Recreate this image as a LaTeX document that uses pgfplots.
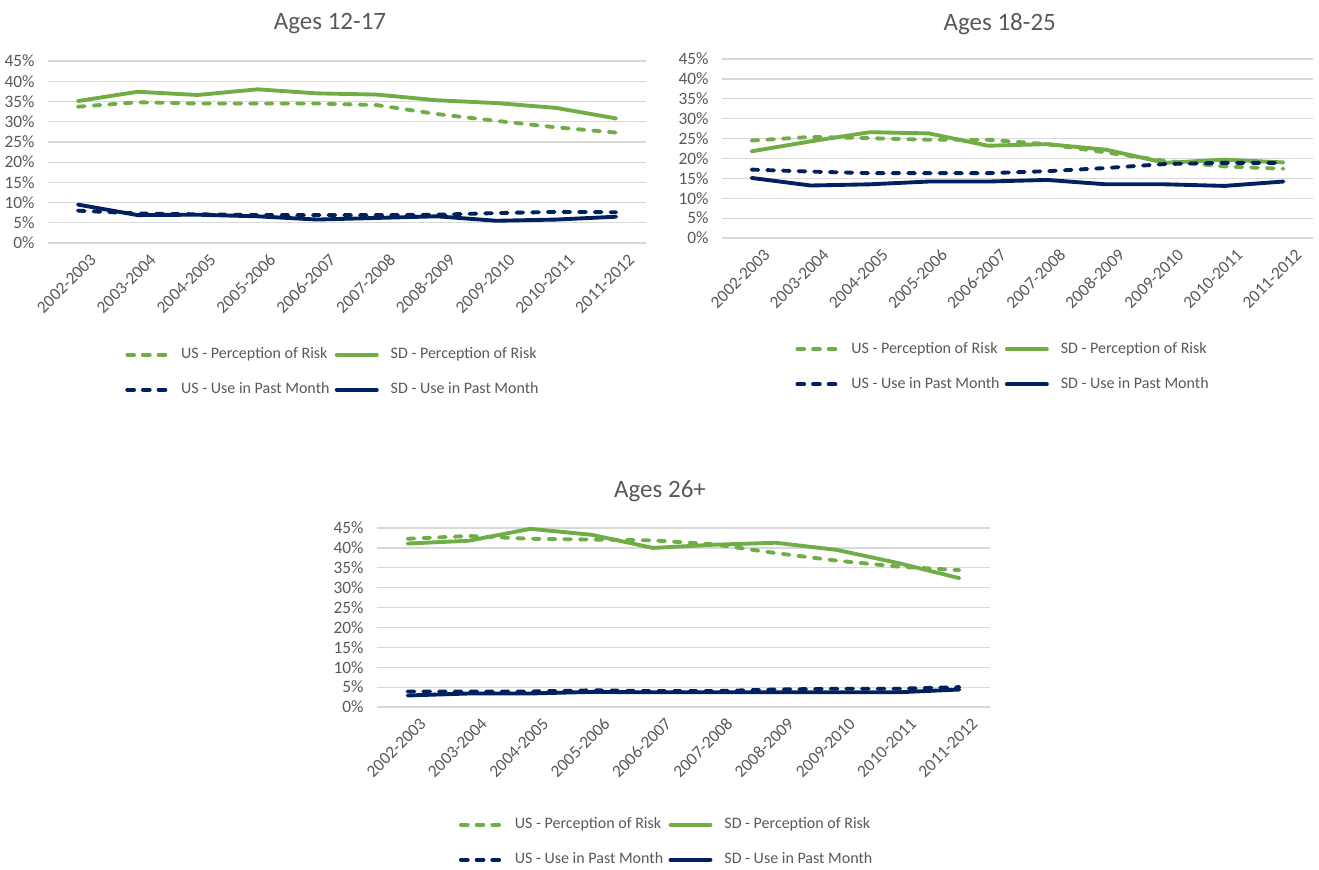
\documentclass[border=0pt]{standalone}
\usepackage{pgfplots}
\usepackage{pgfplotstable}
\pgfplotsset{compat=1.18}
\usepackage{fontspec}
\setmainfont{Carlito}
\definecolor{cgreen}{HTML}{70AD47}
\definecolor{cnavy}{HTML}{002060}
\definecolor{ctext}{HTML}{595959}
\definecolor{cgrid}{HTML}{D9D9D9}

\pgfplotstableread{
x usp sdp usu sdu
0 33.7 35.1 8.0 9.5
1 34.8 37.4 7.3 6.9
2 34.5 36.6 7.1 7.0
3 34.5 38.0 6.9 6.6
4 34.5 37.0 6.9 5.8
5 34.1 36.7 6.9 6.2
6 31.9 35.3 7.0 6.6
7 30.2 34.6 7.4 5.5
8 28.6 33.4 7.7 5.8
9 27.3 30.8 7.6 6.5
}\tabA
\pgfplotstableread{
x usp sdp usu sdu
0 24.5 21.8 17.2 15.1
1 25.4 24.3 16.7 13.2
2 25.1 26.6 16.3 13.5
3 24.7 26.3 16.3 14.2
4 24.7 23.2 16.3 14.2
5 23.6 23.6 16.8 14.6
6 21.5 22.2 17.6 13.5
7 19.4 18.9 18.6 13.5
8 18.0 19.7 18.9 13.1
9 17.4 19.0 18.9 14.2
}\tabB
\pgfplotstableread{
x usp sdp usu sdu
0 42.3 41.1 3.9 2.9
1 43.0 41.8 3.9 3.4
2 42.3 44.8 3.9 3.4
3 42.1 43.3 4.2 3.8
4 41.9 40.0 4.0 3.7
5 40.9 40.8 4.0 3.7
6 38.7 41.3 4.4 3.7
7 36.8 39.5 4.6 3.7
8 35.3 36.2 4.6 3.7
9 34.4 32.4 5.0 4.4
}\tabC

\pgfplotsset{
 mychart/.style={
  scale only axis, xmin=-0.5, xmax=9.5, ymin=0, ymax=45,
  xtick={0,...,9},
  xticklabels={2002-2003,2003-2004,2004-2005,2005-2006,2006-2007,2007-2008,2008-2009,2009-2010,2010-2011,2011-2012},
  ytick={0,5,...,45},
  yticklabels={0\%,5\%,10\%,15\%,20\%,25\%,30\%,35\%,40\%,45\%},
  ymajorgrids, grid style={cgrid, line width=0.9pt},
  axis line style={draw=none}, major tick length=0pt,
  tick label style={font=\fontsize{13}{15}\selectfont, text=ctext},
  xticklabel style={rotate=45, anchor=east, xshift=4.25pt, yshift=-15.5pt},
  yticklabel style={xshift=-6.5pt},
  title style={font=\fontsize{18.75}{22}\selectfont, text=ctext, anchor=center},
  legend columns=2,
  legend cell align=left,
  legend style={draw=none, fill=none, font=\fontsize{12}{14}\selectfont, text=ctext,
    anchor=center,
    nodes={inner sep=1pt, text height=8.5pt, text depth=2.5pt},
    /tikz/column sep=0pt, row sep=13.25pt,
    /tikz/every odd column/.append style={column sep=8pt},
    /tikz/every even column/.append style={column sep=3pt}},
  legend image code/.code={\draw[#1] (0pt,0pt) -- (30pt,0pt);},
  clip=false,
 },
 usp/.style={color=cgreen, line width=2.9pt, line cap=round, line join=round, dash pattern=on 5.1pt off 6.65pt},
 sdp/.style={color=cgreen, line width=2.9pt, line cap=round, line join=round},
 usu/.style={color=cnavy, line width=2.9pt, line cap=round, line join=round, dash pattern=on 5.1pt off 6.65pt},
 sdu/.style={color=cnavy, line width=2.9pt, line cap=round, line join=round},
}

\begin{document}
\begin{tikzpicture}
\path[use as bounding box] (0,0) rectangle (989.25pt,-651.75pt);

\begin{axis}[mychart, at={(36pt,-182.25pt)}, anchor=south west,
  width=448.5pt, height=136.5pt,
  title={Ages 12-17}, title style={at={(axis description cs:0.4716,1)}, yshift=21.75pt},
  legend style={at={(axis description cs:0.476,-0.71)}}]
\addplot[usp] table[x=x,y=usp]{\tabA};
\addlegendentry{US - Perception of Risk}
\addplot[sdp] table[x=x,y=sdp]{\tabA};
\addlegendentry{SD - Perception of Risk}
\addplot[usu] table[x=x,y=usu]{\tabA};
\addlegendentry{US - Use in Past Month}
\addplot[sdu] table[x=x,y=sdu]{\tabA};
\addlegendentry{SD - Use in Past Month}
\end{axis}

\begin{axis}[mychart, at={(541.5pt,-178.5pt)}, anchor=south west,
  width=443.25pt, height=134.25pt,
  title={Ages 18-25}, title style={at={(axis description cs:0.470,1)}, yshift=20.25pt},
  legend style={at={(axis description cs:0.475,-0.72)}}]
\addplot[usp] table[x=x,y=usp]{\tabB};
\addlegendentry{US - Perception of Risk}
\addplot[sdp] table[x=x,y=sdp]{\tabB};
\addlegendentry{SD - Perception of Risk}
\addplot[usu] table[x=x,y=usu]{\tabB};
\addlegendentry{US - Use in Past Month}
\addplot[sdu] table[x=x,y=sdu]{\tabB};
\addlegendentry{SD - Use in Past Month}
\end{axis}

\begin{axis}[mychart, at={(282.75pt,-530.25pt)}, anchor=south west,
  width=459.75pt, height=134.25pt,
  title={Ages 26+}, title style={at={(axis description cs:0.4617,1)}, yshift=21.75pt},
  legend style={at={(axis description cs:0.472,-0.755)}}]
\addplot[usp] table[x=x,y=usp]{\tabC};
\addlegendentry{US - Perception of Risk}
\addplot[sdp] table[x=x,y=sdp]{\tabC};
\addlegendentry{SD - Perception of Risk}
\addplot[usu] table[x=x,y=usu]{\tabC};
\addlegendentry{US - Use in Past Month}
\addplot[sdu] table[x=x,y=sdu]{\tabC};
\addlegendentry{SD - Use in Past Month}
\end{axis}
\end{tikzpicture}
\end{document}
